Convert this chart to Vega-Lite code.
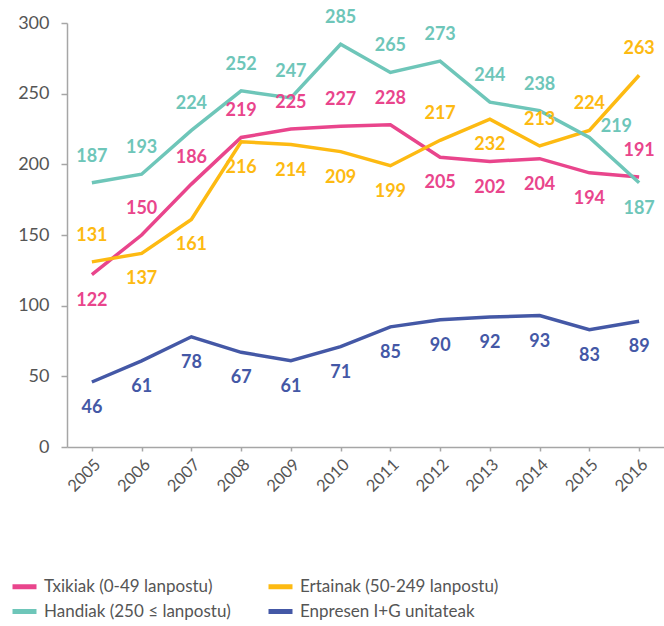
{
  "$schema": "https://vega.github.io/schema/vega-lite/v6.json",
  "autosize": "none",
  "width": 597,
  "height": 424,
  "padding": {"left": 67, "top": 23, "right": 0, "bottom": 179},
  "background": "white",
  "config": {
    "view": {"stroke": null},
    "font": "Lato",
    "axis": {"domainColor": "#a6a6a6", "domainWidth": 1.5, "tickColor": "#a6a6a6", "tickWidth": 1.5, "labelColor": "#555555", "labelFont": "Lato", "grid": false, "title": null}
  },
  "data": {"values": [
    {"year": 2005, "series": "Txikiak (0-49 lanpostu)", "value": 122},
    {"year": 2006, "series": "Txikiak (0-49 lanpostu)", "value": 150},
    {"year": 2007, "series": "Txikiak (0-49 lanpostu)", "value": 186},
    {"year": 2008, "series": "Txikiak (0-49 lanpostu)", "value": 219},
    {"year": 2009, "series": "Txikiak (0-49 lanpostu)", "value": 225},
    {"year": 2010, "series": "Txikiak (0-49 lanpostu)", "value": 227},
    {"year": 2011, "series": "Txikiak (0-49 lanpostu)", "value": 228},
    {"year": 2012, "series": "Txikiak (0-49 lanpostu)", "value": 205},
    {"year": 2013, "series": "Txikiak (0-49 lanpostu)", "value": 202},
    {"year": 2014, "series": "Txikiak (0-49 lanpostu)", "value": 204},
    {"year": 2015, "series": "Txikiak (0-49 lanpostu)", "value": 194},
    {"year": 2016, "series": "Txikiak (0-49 lanpostu)", "value": 191},
    {"year": 2005, "series": "Ertainak (50-249 lanpostu)", "value": 131},
    {"year": 2006, "series": "Ertainak (50-249 lanpostu)", "value": 137},
    {"year": 2007, "series": "Ertainak (50-249 lanpostu)", "value": 161},
    {"year": 2008, "series": "Ertainak (50-249 lanpostu)", "value": 216},
    {"year": 2009, "series": "Ertainak (50-249 lanpostu)", "value": 214},
    {"year": 2010, "series": "Ertainak (50-249 lanpostu)", "value": 209},
    {"year": 2011, "series": "Ertainak (50-249 lanpostu)", "value": 199},
    {"year": 2012, "series": "Ertainak (50-249 lanpostu)", "value": 217},
    {"year": 2013, "series": "Ertainak (50-249 lanpostu)", "value": 232},
    {"year": 2014, "series": "Ertainak (50-249 lanpostu)", "value": 213},
    {"year": 2015, "series": "Ertainak (50-249 lanpostu)", "value": 224},
    {"year": 2016, "series": "Ertainak (50-249 lanpostu)", "value": 263},
    {"year": 2005, "series": "Handiak (250 ≤ lanpostu)", "value": 187},
    {"year": 2006, "series": "Handiak (250 ≤ lanpostu)", "value": 193},
    {"year": 2007, "series": "Handiak (250 ≤ lanpostu)", "value": 224},
    {"year": 2008, "series": "Handiak (250 ≤ lanpostu)", "value": 252},
    {"year": 2009, "series": "Handiak (250 ≤ lanpostu)", "value": 247},
    {"year": 2010, "series": "Handiak (250 ≤ lanpostu)", "value": 285},
    {"year": 2011, "series": "Handiak (250 ≤ lanpostu)", "value": 265},
    {"year": 2012, "series": "Handiak (250 ≤ lanpostu)", "value": 273},
    {"year": 2013, "series": "Handiak (250 ≤ lanpostu)", "value": 244},
    {"year": 2014, "series": "Handiak (250 ≤ lanpostu)", "value": 238},
    {"year": 2015, "series": "Handiak (250 ≤ lanpostu)", "value": 219},
    {"year": 2016, "series": "Handiak (250 ≤ lanpostu)", "value": 187},
    {"year": 2005, "series": "Enpresen I+G unitateak", "value": 46},
    {"year": 2006, "series": "Enpresen I+G unitateak", "value": 61},
    {"year": 2007, "series": "Enpresen I+G unitateak", "value": 78},
    {"year": 2008, "series": "Enpresen I+G unitateak", "value": 67},
    {"year": 2009, "series": "Enpresen I+G unitateak", "value": 61},
    {"year": 2010, "series": "Enpresen I+G unitateak", "value": 71},
    {"year": 2011, "series": "Enpresen I+G unitateak", "value": 85},
    {"year": 2012, "series": "Enpresen I+G unitateak", "value": 90},
    {"year": 2013, "series": "Enpresen I+G unitateak", "value": 92},
    {"year": 2014, "series": "Enpresen I+G unitateak", "value": 93},
    {"year": 2015, "series": "Enpresen I+G unitateak", "value": 83},
    {"year": 2016, "series": "Enpresen I+G unitateak", "value": 89}
  ]},
  "encoding": {
    "x": {"field": "year", "type": "ordinal", "scale": {"type": "point", "padding": 0.5},
      "axis": {"labelAngle": -45, "labelFontSize": 16.5, "tickSize": 4, "labelPadding": 5}},
    "y": {"field": "value", "type": "quantitative", "scale": {"domain": [0, 300], "nice": false},
      "axis": {"values": [0, 50, 100, 150, 200, 250, 300], "tickSize": 6, "labelPadding": 12, "labelFontSize": 18}}
  },
  "layer": [
    {
      "mark": {"type": "line", "strokeWidth": 3.5},
      "encoding": {
        "color": {"field": "series", "type": "nominal",
          "scale": {"domain": ["Txikiak (0-49 lanpostu)", "Ertainak (50-249 lanpostu)", "Handiak (250 ≤ lanpostu)", "Enpresen I+G unitateak"],
                    "range": ["#E9458C", "#FDBA12", "#6EC6B9", "#4458A6"]},
          "legend": {"title": null, "orient": "none", "legendX": -57, "legendY": 549, "columns": 2, "direction": "horizontal",
            "symbolType": "stroke", "symbolSize": 576, "symbolStrokeWidth": 5, "labelFontSize": 17, "labelColor": "#555555",
            "labelFont": "Lato", "labelOffset": 5, "rowPadding": -1, "columnPadding": 27, "labelLimit": 400}
        }
      }
    },
    {
      "transform": [{"filter": "(datum.series=='Handiak (250 ≤ lanpostu)' && datum.year<=2014) || (datum.series=='Txikiak (0-49 lanpostu)' && ((datum.year>=2006 && datum.year<=2011) || datum.year==2016)) || (datum.series=='Ertainak (50-249 lanpostu)' && (datum.year==2005 || datum.year==2012 || datum.year>=2014))"}],
      "mark": {"type": "text", "fontWeight": "bold", "fontSize": 18, "dy": -26, "baseline": "middle", "align": "center"},
      "encoding": {
        "text": {"field": "value", "type": "quantitative"},
        "fill": {"field": "series", "type": "nominal", "legend": null,
          "scale": {"domain": ["Txikiak (0-49 lanpostu)", "Ertainak (50-249 lanpostu)", "Handiak (250 ≤ lanpostu)", "Enpresen I+G unitateak"],
                    "range": ["#E9458C", "#FDBA12", "#6EC6B9", "#4458A6"]}}
      }
    },
    {
      "transform": [{"filter": "!((datum.series=='Handiak (250 ≤ lanpostu)' && datum.year<=2015) || (datum.series=='Txikiak (0-49 lanpostu)' && ((datum.year>=2006 && datum.year<=2011) || datum.year==2016)) || (datum.series=='Ertainak (50-249 lanpostu)' && (datum.year==2005 || datum.year==2012 || datum.year>=2014)))"}],
      "mark": {"type": "text", "fontWeight": "bold", "fontSize": 18, "dy": 26, "baseline": "middle", "align": "center"},
      "encoding": {
        "text": {"field": "value", "type": "quantitative"},
        "fill": {"field": "series", "type": "nominal", "legend": null,
          "scale": {"domain": ["Txikiak (0-49 lanpostu)", "Ertainak (50-249 lanpostu)", "Handiak (250 ≤ lanpostu)", "Enpresen I+G unitateak"],
                    "range": ["#E9458C", "#FDBA12", "#6EC6B9", "#4458A6"]}}
      }
    },
    {
      "transform": [{"filter": "datum.series=='Handiak (250 ≤ lanpostu)' && datum.year==2015"}],
      "mark": {"type": "text", "fontWeight": "bold", "fontSize": 18, "dx": 27, "dy": -10, "baseline": "middle", "align": "center"},
      "encoding": {
        "text": {"field": "value", "type": "quantitative"},
        "fill": {"field": "series", "type": "nominal", "legend": null,
          "scale": {"domain": ["Txikiak (0-49 lanpostu)", "Ertainak (50-249 lanpostu)", "Handiak (250 ≤ lanpostu)", "Enpresen I+G unitateak"],
                    "range": ["#E9458C", "#FDBA12", "#6EC6B9", "#4458A6"]}}
      }
    }
  ]
}
